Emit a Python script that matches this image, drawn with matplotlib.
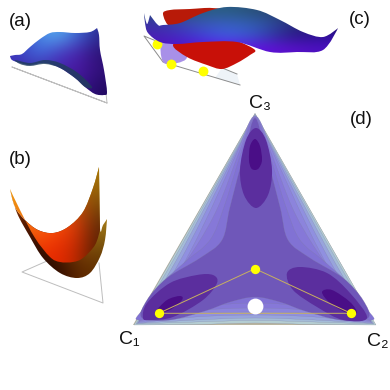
import numpy as np
import matplotlib
matplotlib.use('Agg')
import matplotlib.pyplot as plt
from matplotlib.colors import to_rgb
from matplotlib.path import Path
from matplotlib.patches import PathPatch, Polygon

plt.rcParams['font.family'] = ['Liberation Sans', 'DejaVu Sans']

# Contour levels of panel d: half outlines as (offset from axis, y), mirrored when drawn
tri_top = (255, 113)
tri_left = (133, 325)
tri_right = (376, 325)
axis_x = 255
level_colors = ['#b4cdd2', '#a4bcd8', '#98a4dc', '#9090e0', '#8c84dc', '#8678d8', '#8172d4', '#6f57b9']
level_halves = [
    [(0, 113.5), (0, 113.5), (121, 325), (121, 325), (60, 324.5), (0, 323)],
    [(0, 114), (0, 114), (20, 150), (52, 207), (76, 250), (99, 290), (119, 324), (119, 324), (60, 322), (0, 320.5)],
    [(0, 115), (0, 115), (19, 150), (50, 207), (73, 250), (96, 290), (118, 323.5), (118, 323.5), (60, 320), (0, 318)],
    [(0, 115.5), (0, 115.5), (18, 150), (47, 207), (69, 250), (92, 290), (117, 323), (117, 323), (60, 317), (0, 315)],
    [(0, 116), (17, 150), (43, 207), (64, 250), (87, 290), (116, 322), (116, 322), (60, 314), (0, 312)],
    [(0, 116.5), (15, 150), (37, 207), (58, 245), (83, 280), (105, 305), (116, 321), (116, 321), (60, 311), (0, 308)],
    [(0, 117), (13, 150), (31, 207), (45, 240), (70, 262), (95, 285), (113, 310), (115, 320), (60, 308), (0, 303)],
    [(0, 118), (10, 150), (25, 207), (33, 240), (55, 258), (88, 278), (108, 300), (113, 318), (85, 320), (50, 311), (25, 302), (0, 297)],
]

# Dark basins of panel d
basin_mid_color = '#5b2e9e'
basin_dark_color = '#4a0e87'
basins_mid = [
    [(256, 128), (266, 140), (272, 170), (268, 195), (256, 208), (244, 195), (240, 170), (246, 140)],
    [(143, 318), (147, 303), (170, 283), (197, 275), (213, 275), (217, 283), (203, 300), (173, 317), (150, 320)],
    [(287, 273), (300, 267), (327, 273), (350, 293), (367, 318), (343, 320), (317, 307), (293, 290)],
]
basins_dark = [
    [(255, 139), (260, 146), (262, 160), (259, 168), (255, 170), (251, 168), (249, 160), (250, 146)],
    [(155, 312), (167, 300), (180, 296), (182, 300), (170, 310), (157, 313)],
    [(322, 292), (332, 290), (350, 302), (357, 313), (347, 313), (330, 303)],
]

# Minimum points and the path linking them
minima_x = [158.7, 255, 351]
minima_y = [313.3, 268.7, 313.3]
centre_dot = (255, 306)

# Panel a
a_base_x = [106, 107, 12, 107]
a_base_y = [93, 103, 67, 103]
a_surface = [(10, 56), (10, 56), (15, 55), (22, 54), (30, 47), (40, 39), (50, 33), (60, 32), (75, 33), (90, 32), (97, 28), (97, 28),
             (99, 35), (100, 50), (104, 70), (107, 92), (104, 95), (95, 94), (85, 87), (75, 78), (60, 68), (45, 63),
             (30, 65), (20, 63), (12, 60)]
a_under = [(15, 60), (30, 63), (45, 60), (60, 63), (78, 73), (92, 87), (85, 87), (75, 78), (60, 68), (45, 64), (30, 66), (20, 64)]
a_colors = [['#3a30b0', '#4a90e8', '#58b0f0', '#3a60d0', '#2c2a90'],
            ['#3c40c0', '#4068e0', '#4438c0', '#4a1fa8', '#2a1070'],
            ['#4020b0', '#3f30a0', '#4a20b0', '#4a18a0', '#30107a'],
            ['#203a60', '#203a60', '#2a1a70', '#3a1490', '#220a60']]

# Panel b
b_base_x = [47, 22, 103, 99]
b_base_y = [261, 272, 303, 263]
b_whole = [(10, 189), (10, 189), (17, 213), (30, 237), (43, 258), (60, 273), (77, 278), (90, 273), (100, 257), (105, 240), (107, 219), (107, 219),
           (103, 225), (100, 228), (99, 167), (99, 167), (93, 188), (83, 212), (68, 227), (53, 233), (38, 230), (25, 220), (15, 207)]
b_top = [(10, 189), (10, 189), (15, 207), (25, 220), (38, 230), (53, 233), (68, 227), (83, 212), (93, 188), (99, 167), (99, 167),
         (100, 230), (100, 230), (95, 245), (83, 258), (73, 262), (60, 262), (50, 257), (35, 238), (20, 210)]
b_top_colors = [['#e8a010', '#c88010', '#c07010', '#a86808', '#a87808'],
                ['#f09010', '#f07a10', '#ff7810', '#c05008', '#805008'],
                ['#f07010', '#ff6810', '#f84808', '#e03808', '#602808'],
                ['#b03000', '#e83000', '#e82800', '#c02800', '#5a2000']]
b_under_colors = [['#b88010', '#806010', '#705010', '#907010', '#b89020'],
                  ['#802800', '#602000', '#a05010', '#c08018', '#c09020'],
                  ['#401000', '#401000', '#702800', '#a05810', '#806010'],
                  ['#200800', '#200800', '#300c00', '#602800', '#603000']]

# Panel c
c_plane_x = [237, 144, 163, 240]
c_plane_y = [74, 36, 62, 85]
c_plane_fill = [(222, 68), (237, 74), (240, 85), (215, 78)]
c_red_back = [(163, 14), (170, 10), (190, 9), (212, 8), (225, 12), (200, 30), (172, 28)]
c_red_front = [(173, 45), (187, 57), (207, 65), (222, 69), (237, 63), (250, 55), (255, 50), (240, 42), (227, 38), (190, 36)]
c_lilac = [(162, 40), (163, 62), (177, 63), (187, 57), (180, 40)]
c_surface = [(144, 13), (144, 13), (147, 24), (150, 15), (150, 15), (158, 25), (163, 25), (180, 23), (203, 13), (227, 7), (257, 10), (280, 20),
             (303, 32), (323, 37), (338, 28), (338, 28), (323, 50), (297, 52), (270, 52), (237, 42), (203, 42),
             (177, 44), (160, 42), (148, 33), (145, 23)]
c_colors = [['#2a4a80', '#2a5a80', '#2a6088', '#2a5078', '#253a70', '#1e2060'],
            ['#3a30a8', '#3a50b0', '#3a60c8', '#3060b0', '#2a3080', '#1e1060'],
            ['#4a20b0', '#4030d0', '#4060e8', '#3a50c8', '#2a1880', '#3010a0'],
            ['#5010c0', '#5a10d0', '#6a10e8', '#6010e0', '#5a10c8', '#4a10c0']]
c_points_x = [157, 171, 203]
c_points_y = [44, 64, 71]

labels = ['(a)', '(b)', '(c)', '(d)']
labels_x = [9, 9, 349, 350]
labels_y = [21, 159, 20, 120]
corners = ['C\u2081', 'C\u2082', 'C\u2083']
corners_x = [129, 378, 260]
corners_y = [340, 341, 103]


def smooth(points):
    # closed bezier path through the points, doubled points give a corner
    pts = np.array(points, dtype=float)
    n = len(pts)
    tang = np.zeros_like(pts)
    for i in range(n):
        prev, nxt = pts[i - 1], pts[(i + 1) % n]
        if not (np.allclose(prev, pts[i]) or np.allclose(nxt, pts[i])):
            tang[i] = (nxt - prev) / 6
    verts = [pts[0]]
    codes = [Path.MOVETO]
    for i in range(n):
        j = (i + 1) % n
        verts += [pts[i] + tang[i], pts[j] - tang[j], pts[j]]
        codes += [Path.CURVE4] * 3
    return Path(verts, codes)


def mirrored(half):
    right = [(axis_x + d, y) for d, y in half]
    left = [(axis_x - d, y) for d, y in half[1:-1]]
    return right + left[::-1]


def gradient(ax, outline, colors, extent, z=2):
    patch = PathPatch(smooth(outline), fc='none', ec='none')
    ax.add_patch(patch)
    grid = np.array([[to_rgb(c) for c in row] for row in colors])
    im = ax.imshow(grid, extent=extent, interpolation='bicubic', aspect='auto', zorder=z)
    im.set_clip_path(patch)


fig = plt.figure(figsize=(3.9, 3.9), dpi=100)
ax = fig.add_axes([0, 0, 1, 1])

# panel d
ax.add_patch(Polygon([tri_top, tri_left, tri_right], fc='#b9b59f', ec='none', zorder=3))
for col, half in zip(level_colors, level_halves):
    ax.add_patch(PathPatch(smooth(mirrored(half)), fc=col, ec='#8080a0', lw=0.15, zorder=3))
for b in basins_mid:
    ax.add_patch(PathPatch(smooth(b), fc=basin_mid_color, ec='none', zorder=3))
for b in basins_dark:
    ax.add_patch(PathPatch(smooth(b), fc=basin_dark_color, ec='none', zorder=3))
ax.plot(minima_x + minima_x[:1], minima_y + minima_y[:1], color='#c8b060', lw=0.7, zorder=4)
ax.scatter(minima_x, minima_y, s=45, color='#ffff00', zorder=5, lw=0)
ax.scatter(*centre_dot, s=130, color='white', zorder=5, lw=0)

# panel a
ax.plot(a_base_x, a_base_y, color='#bdbdbd', lw=0.7, zorder=1)
gradient(ax, a_surface, a_colors, (8, 110, 98, 26))
ax.add_patch(PathPatch(smooth(a_under), fc='#1f3d5c', ec='none', zorder=3, alpha=0.8))

# panel b
ax.plot(b_base_x, b_base_y, color='#bdbdbd', lw=0.7, zorder=1)
gradient(ax, b_whole, b_under_colors, (8, 110, 280, 165))
gradient(ax, b_top, b_top_colors, (8, 105, 265, 165), z=3)

# panel c
ax.add_patch(Polygon(c_plane_fill, fc='#eef3f8', ec='none', zorder=1))
ax.plot(c_plane_x, c_plane_y, color='#8c8c8c', lw=0.7, zorder=1)
ax.add_patch(PathPatch(smooth(c_red_back), fc='#b81a08', ec='none', zorder=1.5))
ax.add_patch(PathPatch(smooth(c_lilac), fc='#a890e8', ec='none', zorder=1.5))
ax.add_patch(PathPatch(smooth(c_red_front), fc='#c81008', ec='none', zorder=1.6))
ax.scatter(c_points_x, c_points_y, s=50, color='#ffff00', zorder=1.8, lw=0)
gradient(ax, c_surface, c_colors, (142, 340, 54, 6))

for t, x, y in zip(labels, labels_x, labels_y):
    ax.text(x, y, t, fontsize=13.5, color='#111111', ha='left', va='center', zorder=6)
for t, x, y in zip(corners, corners_x, corners_y):
    ax.text(x, y, t, fontsize=14, color='#111111', ha='center', va='center', zorder=6)

ax.set_xlim(0, 390)
ax.set_ylim(390, 0)
ax.axis('off')
fig.savefig('out.png', dpi=100, facecolor='white')
